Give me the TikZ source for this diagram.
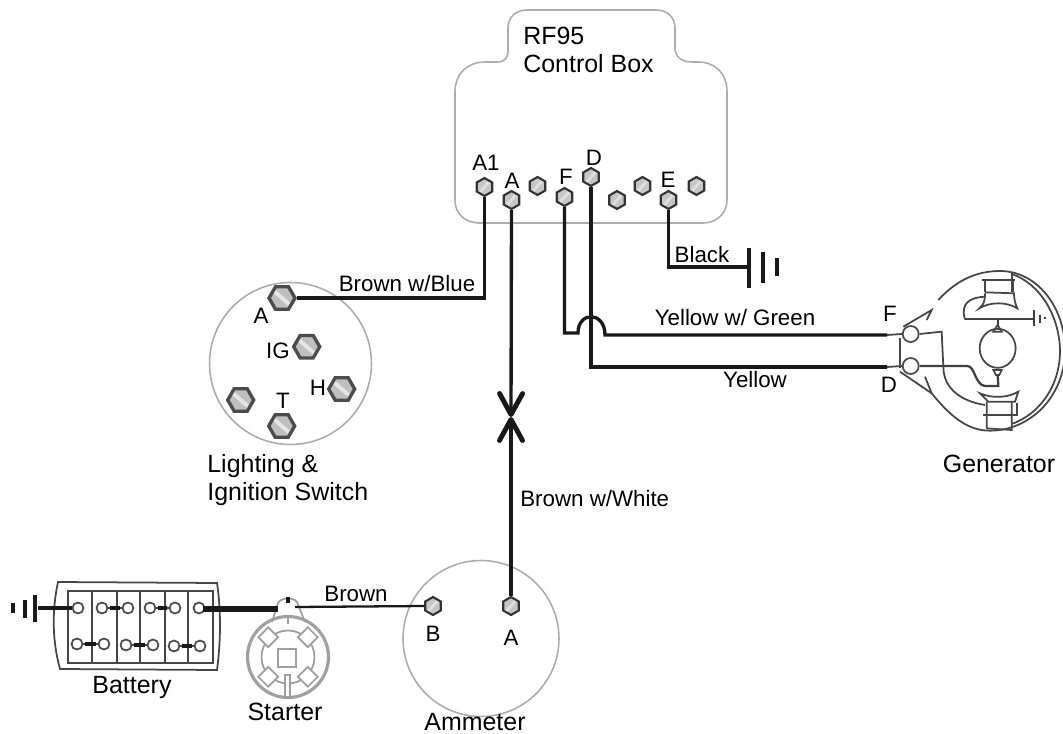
\documentclass[tikz,border=0pt]{standalone}
\usepackage{fontspec}
\setmainfont{Liberation Sans}
\usetikzlibrary{arrows.meta,shapes.geometric}
\tikzset{
  wire/.style={line width=1.9pt,black!90},
  heavy/.style={line width=3.8pt,black!90},
  outline/.style={line width=.9pt,gray!65},
  sketch/.style={line width=1pt,gray!55!black},
  paler/.style={line width=1pt,gray!75},
  dark/.style={line width=1.3pt,black!75},
  bigtext/.style={font=\fontsize{14.2}{16.2}\selectfont,inner sep=0pt,align=left},
  smalltext/.style={font=\fontsize{12.7}{15}\selectfont,inner sep=0pt},
  smallscrew/.style={draw=gray!40!black,line width=1.2pt,fill=gray!45,regular polygon,regular polygon sides=6,
    shape border rotate=30,minimum size=.36cm,inner sep=0pt,
    path picture={\draw[gray!25,line width=1.6pt] (path picture bounding box.south west) -- (path picture bounding box.north east);}},
  bigscrew/.style={draw=black!70,line width=1.9pt,fill=gray!50,regular polygon,regular polygon sides=6,
    minimum size=.52cm,inner sep=0pt,
    path picture={\draw[gray!20,line width=2.2pt] (path picture bounding box.north west) -- (path picture bounding box.south east);}},
  lug/.style={circle,draw=gray!60!black,line width=1pt,fill=white,minimum size=.22cm,inner sep=0pt},
  genlug/.style={circle,draw=gray!60!black,line width=1pt,fill=white,minimum size=.32cm,inner sep=0pt},
  meetsign/.style={-{Straight Barb[length=.42cm,width=.46cm,line width=2.8pt,round]}}
}
\begin{document}
\begin{tikzpicture}[x=.02cm,y=-.02cm]
  \useasboundingbox (0,0) rectangle (1063,734);

  \draw[outline] (455,92) .. controls (455,73) and (468,62) .. (485,62) -- (497,62)
      .. controls (505,62) and (508,58) .. (508,50) -- (508,28)
      .. controls (508,17) and (516,10) .. (527,10) -- (656,10)
      .. controls (667,10) and (675,17) .. (675,28) -- (675,48)
      .. controls (675,57) and (682,62) .. (692,62) -- (698,62)
      .. controls (715,62) and (727,73) .. (727,92) -- (727,200)
      .. controls (727,214) and (716,223) .. (703,223) -- (480,223)
      .. controls (465,223) and (455,214) .. (455,200) -- cycle;
  \node[bigtext,anchor=west] (boxname) at (523,50) {RF95\\Control Box};

  \node[outline,draw,circle,minimum size=3.24cm] (switch) at (290.5,363.5) {};
  \node[outline,draw,circle,minimum size=3.12cm] (ammeter) at (481,638.5) {};

  \node[smallscrew] (ba1) at (484.5,187) {};
  \node[smallscrew] (ba) at (511.5,200) {};
  \node[smallscrew] (bx) at (537.5,186) {};
  \node[smallscrew] (bf) at (564.5,197) {};
  \node[smallscrew] (bd) at (591,177) {};
  \node[smallscrew] (by) at (617,200) {};
  \node[smallscrew] (bz) at (642.5,186) {};
  \node[smallscrew] (be) at (668.5,200) {};
  \node[smallscrew] (bw) at (696.5,186) {};
  \node[smalltext] (la1) at (486,163) {A1};
  \node[smalltext] (la) at (512,181) {A};
  \node[smalltext] (lf) at (566,177) {F};
  \node[smalltext] (ld) at (594,158) {D};
  \node[smalltext] (le) at (668,180) {E};

  \node[bigscrew] (swa) at (282,298) {};
  \node[bigscrew] (swig) at (306.7,346.7) {};
  \node[bigscrew] (swh) at (341.7,389) {};
  \node[bigscrew] (swx) at (240.7,400) {};
  \node[bigscrew] (swt) at (281.7,426) {};
  \node[smalltext] (lswa) at (261,316) {A};
  \node[smalltext] (lswig) at (278,351) {IG};
  \node[smalltext] (lswh) at (318,388) {H};
  \node[smalltext] (lswt) at (283,401) {T};
  \node[bigtext,anchor=west] (lswitch) at (207,480) {Lighting \&\\Ignition Switch};

  \node[smallscrew] (amb) at (433,606) {};
  \node[smallscrew] (ama) at (511,606) {};
  \node[smalltext] (lamb) at (433,634) {B};
  \node[smalltext] (lama) at (511,638) {A};
  \node[bigtext] (lammeter) at (475,722) {Ammeter};

  \draw[wire] (ba1.south) |- (swa.east);
  \node[smalltext] (lblue) at (407,284) {Brown w/Blue};

  \coordinate (meet) at (511,417);
  \draw[wire,meetsign] (ba.south) -- (meet);
  \draw[wire,meetsign] (ama.north) -- (meet);
  \node[smalltext,anchor=west] (lwhite) at (520,499) {Brown w/White};

  \coordinate (gnde) at (749,267);
  \draw[wire] (be.south) |- (gnde);
  \draw[wire,line width=2pt] (749,248) -- (749,288);
  \draw[wire,line width=2pt] (763,252) -- (763,283);
  \draw[wire,line width=2pt] (777,258) -- (777,276);
  \node[smalltext] (lblack) at (702,255) {Black};

  \node[genlug] (genf) at (910.7,334) {};
  \node[genlug] (gend) at (910.7,366) {};
  \coordinate (hopa) at (578,333);
  \coordinate (hopb) at (605,335);
  \coordinate (endf) at (887,335);
  \coordinate (endd) at (887,367);
  \draw[wire] (bf.south) |- (hopa) .. controls (578,311) and (605,311) .. (hopb) -- (endf);
  \draw[wire] (bd.south) |- (endd);
  \draw[sketch] (endf) -- (genf.west);
  \draw[sketch] (endd) -- (gend.west);
  \node[smalltext] (lgreen) at (735,318) {Yellow w/ Green};
  \node[smalltext] (lyellow) at (755,380) {Yellow};
  \node[smalltext] (lgenf) at (890,314) {F};
  \node[smalltext] (lgend) at (889,385) {D};
  \node[bigtext] (lgen) at (999,464) {Generator};

  \begin{scope}[shift={(860,260)},x=.00667cm,y=-.00667cm]
    \draw[sketch] (130,200) -- (215,150) -- (200,180);
    \draw[sketch] (235,120) .. controls (290,60) and (350,33) .. (420,33)
        .. controls (530,33) and (615,140) .. (615,270)
        .. controls (615,410) and (510,512) .. (390,512)
        .. controls (330,512) and (280,480) .. (215,400) -- (120,335);
    \draw[sketch] (195,350) -- (215,400);
    \draw[sketch] (455,42) .. controls (540,70) and (600,170) .. (600,275)
        .. controls (600,370) and (545,460) .. (455,492);
    \draw[sketch] (120,235) -- (120,325);
    \draw[sketch] (365,60) -- (465,60);
    \draw[sketch] (375,60) -- (375,97) (460,60) -- (460,97) (455,40) -- (455,97);
    \draw[sketch] (375,97) -- (465,100);
    \draw[sketch] (375,100) .. controls (375,125) and (370,135) .. (358,145)
        .. controls (390,125) and (440,125) .. (472,145)
        .. controls (465,130) and (462,115) .. (462,100);
    \draw[sketch] (375,110) .. controls (330,112) and (300,130) .. (315,178);
    \draw[dark] (315,178) -- (522,178);
    \draw[dark] (522,150) -- (522,198);
    \draw[sketch] (540,165) -- (540,190) (555,170) -- (555,176);
    \draw[dark] (413,178) -- (413,195);
    \draw[sketch] (413,195) -- (400,215) -- (425,215) -- cycle;
    \node[sketch,draw,ellipse,minimum width=.72cm,minimum height=.78cm,inner sep=0pt] (armature) at (413,265) {};
    \draw[sketch] (400,330) -- (425,330) -- (418,345) -- (408,345) -- cycle;
    \draw[dark] (413,345) -- (415,378) -- (375,378) .. controls (345,375) and (345,318) .. (322,318) -- (gend.east);
    \draw[sketch] (genf.east) -- (245,215) -- (250,320) .. controls (250,390) and (310,425) .. (375,435);
    \draw[sketch] (360,400) .. controls (395,415) and (440,415) .. (475,395)
        -- (465,425) -- (385,425) -- cycle;
    \draw[sketch] (380,425) -- (380,505) -- (455,510) -- (455,425);
    \draw[sketch] (370,465) -- (470,465) -- (470,430);
  \end{scope}

  \draw[sketch] (58,582) -- (217,583) .. controls (221,610) and (221,640) .. (217,670)
      -- (60,669) .. controls (52,640) and (52,610) .. (58,582) -- cycle;
  \draw[sketch] (68,591) rectangle (213,663);
  \foreach \x in {92,117,140,165,188}
    \draw[sketch] (\x,591) -- (\x,663);
  \node[lug] (t1) at (78,608) {};
  \node[lug] (t2) at (102,608) {};
  \node[lug] (t3) at (128,608) {};
  \node[lug] (t4) at (150,608) {};
  \node[lug] (t5) at (175,608) {};
  \node[lug] (t6) at (199,608) {};
  \node[lug] (b1) at (77,644) {};
  \node[lug] (b2) at (104,644) {};
  \node[lug] (b3) at (126,645) {};
  \node[lug] (b4) at (153,645) {};
  \node[lug] (b5) at (174,646) {};
  \node[lug] (b6) at (200,646) {};
  \foreach \a/\b in {t2/t3,t4/t5,b1/b2,b3/b4,b5/b6} {
    \draw[sketch] (\a) -- (\b);
    \draw[wire,shorten >=.03cm,shorten <=.03cm] (\a) -- (\b);
  }
  \coordinate (gndbat) at (38,608);
  \draw[wire,line width=2.8pt] (gndbat) -- (t1.west);
  \draw[wire,line width=2.4pt] (35,595) -- (35,622);
  \draw[wire,line width=2.4pt] (25,600) -- (25,618);
  \draw[wire,line width=2.8pt] (13,603) -- (13,613);
  \node[bigtext] (lbattery) at (132,688) {Battery};

  \node[paler,draw,circle,line width=1.8pt,minimum size=1.62cm,inner sep=0pt] (starter) at (288,657) {};
  \node[paler,draw,circle,minimum size=1.06cm,inner sep=0pt] (startin) at (288,657) {};
  \draw[paler] (272,622) -- (278,603) .. controls (282,597) and (293,597) .. (297,602) -- (305,622);
  \foreach \a in {45,135,225,315}
    \draw[paler,fill=white,rotate around={\a:(288,657)}] (309,650) rectangle (323,664);
  \draw[paler] (278,649) rectangle (296,667);
  \draw[paler,fill=white] (285,675) rectangle (290,697);
  \draw[paler] (288,616) -- (288,624);
  \coordinate (stud) at (295,607);
  \coordinate (cableend) at (278,609);
  \draw[heavy] (t6) ++(4,1) -- (cableend);
  \draw[wire] (288,597) -- (288,603);
  \draw[wire,line width=1.3pt] (stud) -- (amb.west);
  \node[smalltext] (lbrown) at (356,594) {Brown};
  \node[bigtext] (lstarter) at (285,712) {Starter};
\end{tikzpicture}
\end{document}
